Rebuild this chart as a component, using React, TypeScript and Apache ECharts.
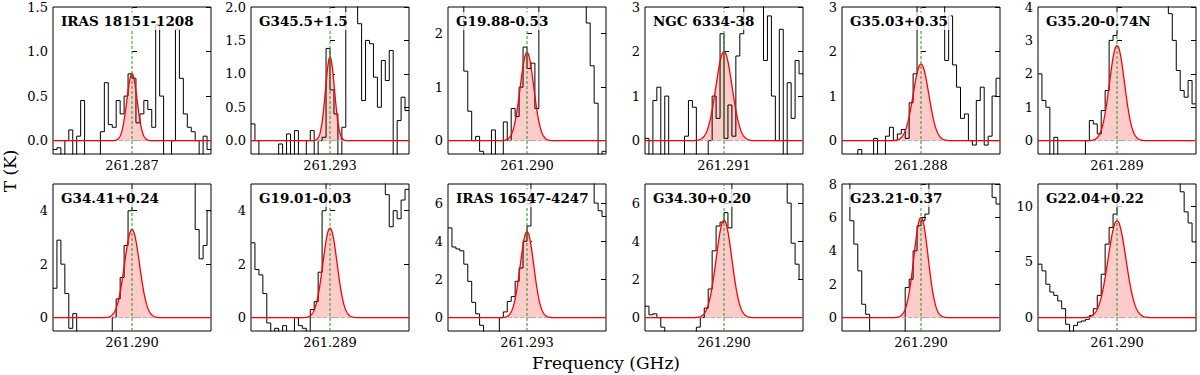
import React, { useEffect, useRef } from "react";
import * as echarts from "echarts";

const names = ["IRAS 18151-1208", "G345.5+1.5", "G19.88-0.53", "NGC 6334-38", "G35.03+0.35", "G35.20-0.74N",
  "G34.41+0.24", "G19.01-0.03", "IRAS 16547-4247", "G34.30+0.20", "G23.21-0.37", "G22.04+0.22"];
const freqLabels = ["261.287", "261.293", "261.290", "261.291", "261.288", "261.289",
  "261.290", "261.289", "261.293", "261.290", "261.290", "261.290"];
const yMax = [1.5, 2, 2.5, 3, 3, 4, 5, 5, 7, 7, 8, 12];
const yMin = [-0.15, -0.2, -0.25, -0.3, -0.3, -0.4, -0.5, -0.5, -0.7, -0.7, -0.8, -1.2];
const yTicks = [[0, 0.5, 1, 1.5], [0, 0.5, 1, 1.5, 2], [0, 1, 2], [0, 1, 2, 3], [0, 1, 2, 3], [0, 1, 2, 3, 4],
  [0, 2, 4], [0, 2, 4], [0, 2, 4, 6], [0, 2, 4, 6], [0, 2, 4, 6, 8], [0, 5, 10]];
const tickDecimals = [1, 1, 0, 0, 0, 0, 0, 0, 0, 0, 0, 0];
const fitPeak = [0.75, 1.25, 1.65, 2.0, 1.72, 2.85, 3.3, 3.35, 4.5, 5.1, 6.0, 8.7];
const fitSigma = [1.3, 1.15, 1.72, 2.05, 1.97, 1.9, 1.9, 1.8, 1.72, 1.98, 1.8, 2.26];

const s1 = [-0.1, -0.08, -0.3, 0.0, 0.12, -0.3, 0.05, 0.45, -0.3, -0.3, -0.3, -0.3, 0.1, 0.65, 0.18, 0.15, 0.45, 0.3, 0.5, 0.75,
  0.7, 0.2, 0.3, 0.45, 0.35, 0.15, 1.3, 0.5, -0.3, -0.3, 0.0, 1.25, 0.7, 0.3, 0.15, 0.1, 0.0, -0.3, 0.05, -0.1];
const s2 = [0.25, 0.0, -0.4, -0.4, -0.4, -0.4, -0.4, -0.05, -0.4, 0.1, -0.4, 0.15, -0.4, -0.4, 0.0, 0.15, -0.4, 0.0, 0.05, 1.38,
  0.76, 0.4, -0.4, 0.2, 2.6, 2.6, 2.6, 1.75, 0.6, 1.5, 1.45, 0.95, 0.5, 1.2, 0.9, 1.35, -0.4, 0.3, 0.65, 0.45];
const s3 = [3, 3, 3, 3, 1.3, 0.55, 0.0, 0.08, -0.2, -0.4, -0.4, 0.2, -0.4, -0.4, 0.35, 0.0, 0.6, 0.45, 1.0, 1.75,
  1.35, 1.45, 0.6, 3, 3, 3, 3, 3, 3, 3, 3, 3, 3, 3, 3, 2.2, 1.4, 0.7, -0.4, -0.2];
const s4 = [0.05, -0.5, 0.9, 1.2, -0.5, 1.0, -0.5, -0.5, -0.5, -0.5, 0.1, 0.9, 0.75, -0.5, -0.5, -0.5, 0.0, 1.0, 0.5, 2.4,
  0.05, 0.8, 0.1, 1.9, 2.4, 4, 4, 4, 4, 4, 1.8, 2.8, 1.0, 0.0, 2.5, -0.5, 1.3, 0.5, 1.8, 1.5];
const s5 = [-0.5, -0.5, -0.5, -0.5, -0.2, -0.5, -0.5, -0.5, 0.05, -0.5, -0.5, 0.1, 0.3, 0.0, 0.15, 0.25, 0.05, 0.85, 1.5, 4,
  4, 4, 4, 4, 4, 4, 1.8, 2.8, 1.7, 1.2, 0.5, 0.6, 0.0, -0.1, 0.9, 1.2, -0.1, 0.1, 1.0, 1.4];
const s6 = [2.0, 1.2, 1.0, -0.6, 0.1, -0.6, -0.6, -0.6, -0.6, -0.6, -0.6, -0.6, 0.0, 0.6, 0.5, 0.2, 0.9, 1.5, 3.0, 3.15,
  5, 5, 5, 5, 5, 5, 5, 5, 5, 5, 5, 5, 5, 3.8, 3.0, 2.1, 1.5, 1.3, 1.8, 1.1];
const s7 = [1.1, 2.9, 2.0, 0.9, -0.4, 0.15, -0.8, -0.8, -0.8, -0.8, -0.8, -0.8, -0.8, -0.8, -0.8, 0.0, 0.7, 1.5, 2.7, 4.0,
  6, 6, 6, 6, 6, 6, 6, 6, 6, 6, 6, 6, 6, 6, 6, 6, 3.3, 2.2, 2.7, 4.0];
const s8 = [2.8, 1.8, 1.6, 0.9, -0.2, -0.8, -0.4, -0.8, -0.3, -0.8, -0.8, 0.0, -0.3, -0.4, -0.8, 0.3, 0.6, 1.7, 4.0, 6,
  6, 6, 6, 6, 6, 6, 6, 6, 6, 6, 6, 6, 6, 6, 4.6, 3.4, 4.0, 3.7, 4.4, 4.8];
const s9 = [4.7, 3.7, 3.6, 3.5, 2.8, 1.9, 0.8, 0.2, -0.4, -1, -1, -1, -0.8, 0.0, 0.3, 0.85, 1.1, 1.9, 2.6, 4.0,
  4.8, 8.5, 8.5, 8.5, 8.5, 8.5, 8.5, 8.5, 8.5, 8.5, 8.5, 8.5, 8.5, 8.5, 8.5, 8.5, 8.5, 6.0, 5.6, 5.3];
const s10 = [0.6, 0.15, 0.2, 0.0, -0.5, -1, -1, -1, -1, -1, -1, -1, -1, -0.5, 0.0, 0.5, 1.5, 3.5, 4.8, 5.0,
  5.5, 4.7, 8.5, 8.5, 8.5, 8.5, 8.5, 8.5, 8.5, 8.5, 8.5, 8.5, 8.5, 8.5, 8.5, 8.5, 6.0, 3.9, 2.8, 2.0];
const s11 = [9.5, 9.5, 5.8, 4.4, 2.8, 0.8, 0.2, -1.2, -1.2, -1.2, -1.2, -1.2, -1.2, -1.2, -1.2, -1.2, 1.8, 2.3, 4.0, 5.5,
  5.8, 6.2, 9.5, 9.5, 9.5, 9.5, 9.5, 9.5, 9.5, 9.5, 9.5, 9.5, 9.5, 9.5, 9.5, 9.5, 9.5, 9.5, 7.2, 6.8];
const s12 = [4.8, 4.2, 3.0, 2.3, 2.0, 1.5, 0.8, -0.6, -1.3, -0.7, -0.4, -0.3, -0.15, 0.2, 0.8, 2.0, 3.9, 6.6, 8.1, 9.3,
  14, 14, 14, 14, 14, 14, 14, 14, 14, 14, 14, 14, 14, 14, 14, 14, 11.3, 9.5, 8.5, 6.8];
const spectra = [s1, s2, s3, s4, s5, s6, s7, s8, s9, s10, s11, s12];

const gridLefts = [53, 251, 448, 645, 842, 1038];
const gridTops = [7, 184];
const GW = 158;
const GH = 147;
const XMIN = -20;
const XMAX = 20;
const FONT = "DejaVu Serif";

function buildOption() {
  const grid: any[] = [];
  const xAxis: any[] = [];
  const yAxis: any[] = [];
  const series: any[] = [];
  const title: any[] = [];
  for (let i = 0; i < 12; i++) {
    const left = gridLefts[i % 6];
    const top = gridTops[Math.floor(i / 6)];
    grid.push({ left, top, width: GW, height: GH, show: true, borderColor: "#000", borderWidth: 1, backgroundColor: "transparent" });
    xAxis.push({
      type: "value", gridIndex: i, min: XMIN, max: XMAX,
      axisLine: { show: false },
      axisTick: { show: true, inside: true, length: 5, customValues: [0], lineStyle: { color: "#000" } },
      axisLabel: { show: true, customValues: [0], formatter: () => freqLabels[i], color: "#000", fontFamily: FONT, fontSize: 13, margin: 5 },
      splitLine: { show: false },
    });
    const dec = tickDecimals[i];
    yAxis.push({
      type: "value", gridIndex: i, min: yMin[i], max: yMax[i], position: "left",
      axisLine: { show: false },
      axisTick: { show: true, inside: true, length: 5, customValues: yTicks[i], lineStyle: { color: "#000" } },
      axisLabel: { show: true, customValues: yTicks[i], formatter: (v: number) => v.toFixed(dec), color: "#000", fontFamily: FONT, fontSize: 13, margin: 5 },
      splitLine: { show: false },
    });
    yAxis.push({
      type: "value", gridIndex: i, min: yMin[i], max: yMax[i], position: "right",
      axisLine: { show: false },
      axisTick: { show: true, inside: true, length: 5, customValues: yTicks[i], lineStyle: { color: "#000" } },
      axisLabel: { show: false },
      splitLine: { show: false },
    });
    const spec = spectra[i];
    const specData = spec.map((v, k) => [XMIN + k, v]);
    specData.push([XMAX, spec[spec.length - 1]]);
    const fit: number[][] = [];
    const A = fitPeak[i];
    const sg = fitSigma[i];
    for (let j = 0; j <= 400; j++) {
      const x = XMIN + j * 0.1;
      fit.push([x, A * Math.exp(-(x * x) / (2 * sg * sg))]);
    }
    const base = { xAxisIndex: i, yAxisIndex: 2 * i, type: "line", showSymbol: false, symbol: "none", silent: true, clip: true, animation: false };
    series.push({ ...base, data: fit, lineStyle: { width: 0 }, areaStyle: { color: "#ffcccc", opacity: 1 }, z: 1 });
    series.push({ ...base, data: specData, step: "end", lineStyle: { color: "#000", width: 1 }, z: 2 });
    series.push({ ...base, data: [[XMIN, 0], [XMAX, 0]], lineStyle: { color: "#b0b0b0", width: 1, type: [4, 2] }, z: 3 });
    series.push({ ...base, data: fit, lineStyle: { color: "#ff0000", width: 1.3 }, z: 4 });
    series.push({ ...base, data: [[0, yMin[i]], [0, yMax[i]]], lineStyle: { color: "#1f9a1f", width: 1, type: [3, 2] }, z: 5 });
    title.push({
      text: names[i], left: left + 5, top: top + 5, padding: [2, 3],
      backgroundColor: "rgba(255,255,255,0.75)",
      textStyle: { fontFamily: FONT, fontWeight: "bold", fontSize: 13.5, color: "#000" },
      z: 10,
    });
  }
  return {
    animation: false,
    backgroundColor: "#fff",
    title,
    grid,
    xAxis,
    yAxis,
    series,
    graphic: [
      { type: "text", x: 606, y: 363, style: { text: "Frequency (GHz)", font: `17px '${FONT}'`, fill: "#000", textAlign: "center", textVerticalAlign: "middle" } },
      { type: "text", x: 10, y: 171, rotation: Math.PI / 2, style: { text: "T (K)", font: `17px '${FONT}'`, fill: "#000", textAlign: "center", textVerticalAlign: "middle" } },
    ],
  };
}

export default function App() {
  const ref = useRef<HTMLDivElement>(null);
  useEffect(() => {
    if (!ref.current) return;
    const chart = echarts.init(ref.current, null, { renderer: "svg" });
    chart.setOption(buildOption() as any);
    return () => chart.dispose();
  }, []);
  return <div ref={ref} style={{ position: "absolute", left: 0, top: 0, width: 1200, height: 375 }} />;
}
